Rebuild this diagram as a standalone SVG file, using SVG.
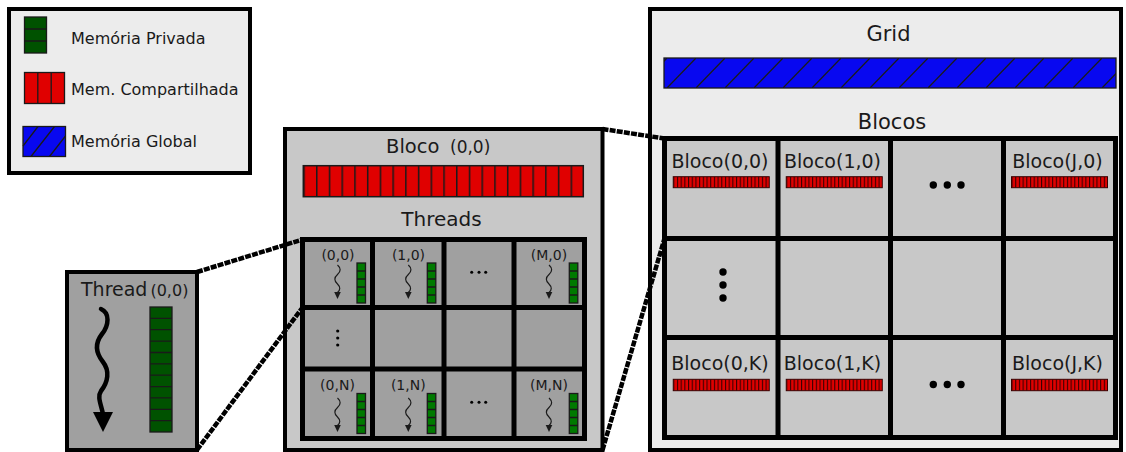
<svg xmlns="http://www.w3.org/2000/svg" width="1126" height="452" viewBox="0 0 1126 452">
<defs>
<style>
text{font-family:"DejaVu Sans","Liberation Sans",sans-serif;fill:#1a1a1a}
.lg{fill:#ececec;stroke:#000;stroke-width:4}
.mid{fill:#c8c8c8;stroke:#000;stroke-width:4}
.dk{fill:#a0a0a0;stroke:#000;stroke-width:4}
.gl{stroke:#000;stroke-width:5;fill:none}
.conn{stroke:#000;stroke-width:4.5;stroke-dasharray:6 1.2;fill:none}
.red{fill:#e00000;stroke:#1a1a1a;stroke-width:1.3}
.grn{fill:#005200;stroke:#1a1a1a;stroke-width:1.3}
.grn2{fill:#007a00;stroke:#1a1a1a;stroke-width:1.3}
.thin{stroke:#1a1a1a;stroke-width:1.3;fill:none}
.dot{fill:#000}
.lbl{font-size:14px;text-anchor:middle}
.blk{font-size:19px;text-anchor:middle}
.hdr{font-size:21px;text-anchor:middle}
</style>
<pattern id="pbig" patternUnits="objectBoundingBox" width="0.0454545" height="1"><rect width="12.73" height="40" fill="#e00000"/><rect width="1.5" height="40" fill="#1a1a1a"/></pattern>
<pattern id="pmini" patternUnits="objectBoundingBox" width="0.0384615" height="1"><rect width="3.7" height="14" fill="#e00000"/><rect width="1.1" height="14" fill="#3a0000"/></pattern>
<pattern id="phatch" patternUnits="userSpaceOnUse" x="667" y="58" width="29" height="30"><rect width="29" height="30" fill="#0808f0"/><line x1="0" y1="30" x2="29" y2="0" stroke="#1a1a1a" stroke-width="1.3"/></pattern>
<g id="sw"><path d="M0,0 c3.5,3 3.5,6.5 0,9.5 c-3.5,3 -3.5,6.5 0,9.5 c3,3 3,6 0,8.5 l0,1" fill="none" stroke="#1a1a1a" stroke-width="1.2"/><polygon points="-3.3,27 3.3,27 0,34" fill="#1a1a1a"/></g>
<g id="sg"><rect width="8.5" height="40" class="grn2"/><path d="M0,8H8.5M0,16H8.5M0,24H8.5M0,32H8.5" class="thin"/></g>
</defs>

<g id="legend">
<rect x="9" y="9" width="241" height="164" class="lg"/>
<rect x="24.5" y="17" width="22" height="36" class="grn"/>
<path d="M24.5,29H46.5M24.5,41H46.5" class="thin"/>
<text x="71" y="44" font-size="16">Memória Privada</text>
<rect x="24.5" y="72.5" width="40" height="31" class="red"/>
<path d="M37.8,72.5V103.5M51.2,72.5V103.5" class="thin"/>
<text x="71" y="95" font-size="16">Mem. Compartilhada</text>
<rect x="23" y="126.5" width="42.5" height="30" fill="#0808f0" stroke="#1a1a1a" stroke-width="1.3"/>
<path d="M23,146 L38,126.5 M31,156.5 L54.5,126.5 M49.5,156.5 L65.5,136" class="thin"/>
<text x="71" y="147" font-size="16">Memória Global</text>
</g>

<g id="thread">
<rect x="67" y="272" width="130" height="178" class="dk"/>
<text x="81" y="296" font-size="19">Thread<tspan font-size="16" dx="3">(0,0)</tspan></text>
<path d="M101,309 C110,313 109,325 102,334 C95,343 95,352 103,362 C110,371 108,382 101,391 C97,397 101,404 103,414" fill="none" stroke="#000" stroke-width="4.5" stroke-linecap="round"/>
<polygon points="93,412 113,412 103,432" fill="#000"/>
<rect x="150" y="307" width="22" height="125" class="grn"/>
<path d="M150,318.4H172M150,329.7H172M150,341.1H172M150,352.5H172M150,363.8H172M150,375.2H172M150,386.6H172M150,397.9H172M150,409.3H172M150,420.6H172" class="thin"/>
</g>

<g id="bloco">
<rect x="285" y="129" width="317.5" height="321" class="mid"/>
<text x="386" y="153" font-size="19.5">Bloco<tspan x="450" font-size="17">(0,0)</tspan></text>
<rect x="303.3" y="165.7" width="280" height="31" fill="url(#pbig)" stroke="#1a1a1a" stroke-width="1.5"/>
<text x="441.5" y="226" font-size="20" text-anchor="middle">Threads</text>
<g id="thread-grid">
<rect x="302.5" y="239.5" width="282" height="199" fill="#a0a0a0"/>
<path d="M302.5,239.5H584.5V438.5H302.5Z M372.5,239.5V438.5 M444,239.5V438.5 M514,239.5V438.5 M302.5,307.5H584.5 M302.5,369H584.5" class="gl"/>
<g id="t00"><text x="338" y="260" class="lbl">(0,0)</text><use href="#sw" x="337.5" y="265"/><use href="#sg" x="357" y="263"/></g>
<g id="t10"><text x="408.5" y="260" class="lbl">(1,0)</text><use href="#sw" x="408.3" y="265"/><use href="#sg" x="427.3" y="263"/></g>
<g id="t20"><circle cx="471.7" cy="272.3" r="1.5" class="dot"/><circle cx="479" cy="272.3" r="1.5" class="dot"/><circle cx="485.7" cy="272.3" r="1.5" class="dot"/></g>
<g id="tM0"><text x="549" y="260" class="lbl">(M,0)</text><use href="#sw" x="549" y="265"/><use href="#sg" x="569.3" y="263"/></g>
<g id="t01"><circle cx="337.7" cy="331" r="1.6" class="dot"/><circle cx="337.7" cy="338" r="1.6" class="dot"/><circle cx="337.7" cy="345" r="1.6" class="dot"/></g>
<g id="t0N"><text x="337.5" y="390" class="lbl">(0,N)</text><use href="#sw" x="337.5" y="398"/><use href="#sg" x="357" y="393.5"/></g>
<g id="t1N"><text x="408.3" y="390" class="lbl">(1,N)</text><use href="#sw" x="408.3" y="398"/><use href="#sg" x="427.3" y="393.5"/></g>
<g id="t2N"><circle cx="471.7" cy="402.3" r="1.5" class="dot"/><circle cx="479" cy="402.3" r="1.5" class="dot"/><circle cx="485.7" cy="402.3" r="1.5" class="dot"/></g>
<g id="tMN"><text x="549" y="390" class="lbl">(M,N)</text><use href="#sw" x="549" y="398"/><use href="#sg" x="569.3" y="393.5"/></g>
</g>
</g>

<g id="grid">
<rect x="650" y="9" width="471" height="441" class="lg"/>
<text x="888.5" y="41" class="hdr">Grid</text>
<rect x="664" y="58" width="452" height="30" fill="url(#phatch)" stroke="#1a1a1a" stroke-width="1.3"/>
<text x="892" y="129" class="hdr">Blocos</text>
<g id="block-grid">
<rect x="664.5" y="138.5" width="451" height="299" fill="#c8c8c8"/>
<path d="M664.5,138.5H1115.5V437.5H664.5Z M778,138.5V437.5 M890.5,138.5V437.5 M1003.5,138.5V437.5 M664.5,238.5H1115.5 M664.5,337.5H1115.5" class="gl" stroke-width="5.5"/>
<g id="b00"><text x="720" y="168.3" class="blk">Bloco(0,0)</text><rect x="673.25" y="176.7" width="96" height="11" fill="url(#pmini)" stroke="#3a0000" stroke-width="1"/></g>
<g id="b10"><text x="832.5" y="168.3" class="blk">Bloco(1,0)</text><rect x="786.25" y="176.7" width="96" height="11" fill="url(#pmini)" stroke="#3a0000" stroke-width="1"/></g>
<g id="b20"><circle cx="933.3" cy="185" r="3.7" class="dot"/><circle cx="947.3" cy="185" r="3.7" class="dot"/><circle cx="961" cy="185" r="3.7" class="dot"/></g>
<g id="bJ0"><text x="1057.5" y="168.3" class="blk">Bloco(J,0)</text><rect x="1011.5" y="176.7" width="96" height="11" fill="url(#pmini)" stroke="#3a0000" stroke-width="1"/></g>
<g id="b01"><circle cx="723" cy="272" r="3.7" class="dot"/><circle cx="723" cy="285" r="3.7" class="dot"/><circle cx="723" cy="298" r="3.7" class="dot"/></g>
<g id="b0K"><text x="720" y="370" class="blk">Bloco(0,K)</text><rect x="673.25" y="379.3" width="96" height="11.4" fill="url(#pmini)" stroke="#3a0000" stroke-width="1"/></g>
<g id="b1K"><text x="832.5" y="370" class="blk">Bloco(1,K)</text><rect x="786.25" y="379.3" width="96" height="11.4" fill="url(#pmini)" stroke="#3a0000" stroke-width="1"/></g>
<g id="b2K"><circle cx="933.3" cy="384.5" r="3.7" class="dot"/><circle cx="947.3" cy="384.5" r="3.7" class="dot"/><circle cx="961" cy="384.5" r="3.7" class="dot"/></g>
<g id="bJK"><text x="1057.5" y="370" class="blk">Bloco(J,K)</text><rect x="1011.5" y="379.3" width="96" height="11.4" fill="url(#pmini)" stroke="#3a0000" stroke-width="1"/></g>
</g>
</g>

<g id="connectors">
<path d="M197,272 L302.5,239.5" class="conn"/>
<path d="M197,450 L302.5,307.5" class="conn"/>
<path d="M602.5,129 L664.5,138.5" class="conn"/>
<path d="M602.5,450 L664.5,238.5" class="conn"/>
</g>
</svg>
